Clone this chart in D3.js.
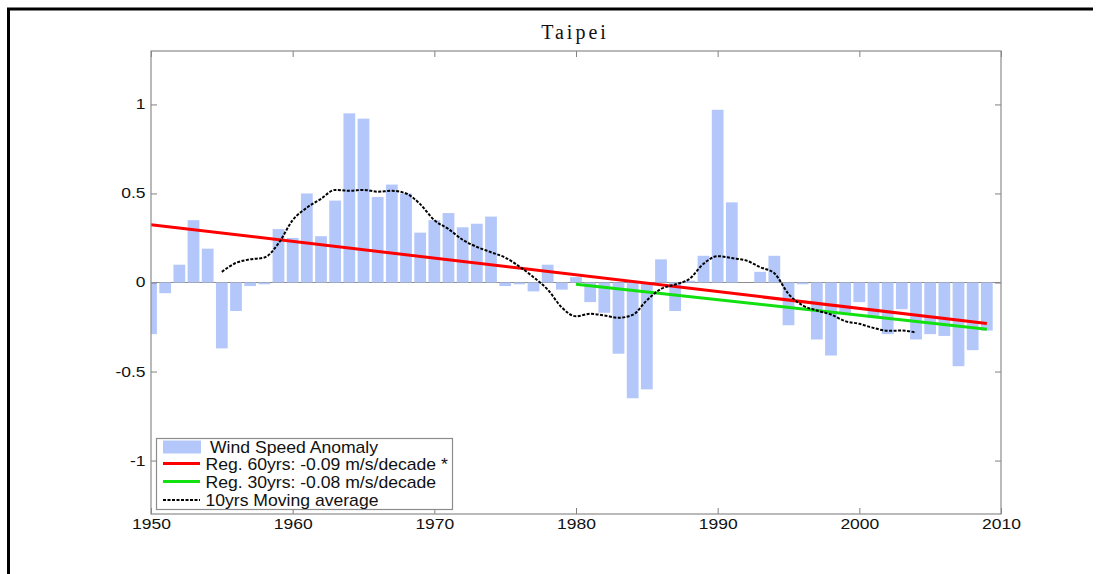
<!DOCTYPE html>
<html>
<head>
<meta charset="utf-8">
<script src="https://cdn.jsdelivr.net/npm/d3@7"></script>
<style>
  body { margin: 0; background: #fff; }
  svg { display: block; }
</style>
</head>
<body>
<svg id="chart" width="1100" height="574"></svg>
<script>
// yearly wind speed anomaly, Taipei (m/s)
var years = d3.range(1950, 2010);
var anomaly = [
  -0.29, -0.06, 0.10, 0.35, 0.19, -0.37, -0.16, -0.02, -0.01, 0.30,
   0.25, 0.50, 0.26, 0.46, 0.95, 0.92, 0.48, 0.55, 0.50, 0.28,
   0.35, 0.39, 0.31, 0.33, 0.37, -0.02, -0.01, -0.05, 0.10, -0.04,
   0.03, -0.11, -0.17, -0.40, -0.65, -0.60, 0.13, -0.16, 0.01, 0.15,
   0.97, 0.45, 0.00, 0.06, 0.15, -0.24, -0.01, -0.32, -0.41, -0.17,
  -0.11, -0.20, -0.29, -0.15, -0.32, -0.29, -0.30, -0.47, -0.38, -0.27
];

// 10yrs moving average, 1955-2004
var maYears = d3.range(1955, 2005);
var movingAvg = [
  0.06, 0.11, 0.13, 0.14, 0.22, 0.35, 0.42, 0.47, 0.52, 0.515,
  0.52, 0.51, 0.515, 0.50, 0.44, 0.35, 0.30, 0.24, 0.20, 0.17,
  0.14, 0.09, 0.03, -0.04, -0.14, -0.19, -0.176, -0.185, -0.198, -0.182,
  -0.10, -0.036, -0.011, 0.02, 0.105, 0.148, 0.137, 0.124, 0.086, 0.052,
  -0.064, -0.129, -0.157, -0.18, -0.217, -0.232, -0.255, -0.271, -0.27, -0.281
];

// regression lines, end points
var reg60 = [{year: 1950, v: 0.325}, {year: 2009, v: -0.23}];
var reg30 = [{year: 1980, v: -0.01}, {year: 2009, v: -0.262}];

var xTicks = [1950, 1960, 1970, 1980, 1990, 2000, 2010];
var yTicks = [-1, -0.5, 0, 0.5, 1];

var legendLabels = [
  "Wind Speed Anomaly",
  "Reg. 60yrs: -0.09 m/s/decade *",
  "Reg. 30yrs: -0.08 m/s/decade",
  "10yrs Moving average"
];

var svg = d3.select("#chart");
var pLeft = 151, pRight = 1001, pTop = 51, pBottom = 514;

var x = d3.scaleLinear().domain([1950, 2010]).range([pLeft, pRight]);
var y = d3.scaleLinear().domain([-1.3, 1.3]).range([pBottom, pTop]);

// outer frame of the page
svg.append("path")
  .attr("d", "M8.5,574 L8.5,9 L1093,9")
  .attr("fill", "none")
  .attr("stroke", "#000")
  .attr("stroke-width", 3);

svg.append("defs").append("clipPath").attr("id", "plotclip")
  .append("rect")
  .attr("x", pLeft).attr("y", pTop)
  .attr("width", pRight - pLeft).attr("height", pBottom - pTop);

var plot = svg.append("g").attr("clip-path", "url(#plotclip)");

// zero line
plot.append("line")
  .attr("x1", pLeft).attr("x2", pRight)
  .attr("y1", y(0)).attr("y2", y(0))
  .attr("stroke", "#8c8c8c").attr("stroke-width", 1.2);

// bars
var bw = (x(1951) - x(1950)) - 2.4;
plot.selectAll(".bar")
  .data(years)
  .enter().append("rect")
  .attr("class", "bar")
  .attr("x", function(d) { return x(d) - bw / 2; })
  .attr("width", bw)
  .attr("y", function(d, i) { return y(Math.max(0, anomaly[i])); })
  .attr("height", function(d, i) { return Math.abs(y(anomaly[i]) - y(0)); })
  .attr("fill", "#b3c7fa");

var regLine = d3.line()
  .x(function(d) { return x(d.year); })
  .y(function(d) { return y(d.v); });

plot.append("path")
  .datum(reg60)
  .attr("d", regLine)
  .attr("fill", "none")
  .attr("stroke", "#ff0000")
  .attr("stroke-width", 3);

plot.append("path")
  .datum(reg30)
  .attr("d", regLine)
  .attr("fill", "none")
  .attr("stroke", "#11e011")
  .attr("stroke-width", 3);

// moving average
var maLine = d3.line()
  .curve(d3.curveMonotoneX)
  .x(function(d) { return x(d); })
  .y(function(d, i) { return y(movingAvg[i]); });

plot.append("path")
  .datum(maYears)
  .attr("d", maLine)
  .attr("fill", "none")
  .attr("stroke", "#000")
  .attr("stroke-width", 2)
  .attr("stroke-dasharray", "3,1.5");

// axes: ticks point inward, on all four sides
function styleAxis(g) {
  g.select(".domain").remove();
  g.selectAll(".tick line").attr("stroke", "#808080");
  g.selectAll("text")
    .attr("font-family", "'Liberation Sans', Arial, sans-serif")
    .attr("font-size", 14)
    .attr("fill", "#111");
}

var xAxis = svg.append("g")
  .attr("transform", "translate(0," + pBottom + ")")
  .call(d3.axisBottom(x).tickValues(xTicks).tickSizeInner(-6).tickSizeOuter(0)
        .tickPadding(5.5).tickFormat(function(d) { return String(d); }))
  .call(styleAxis);
xAxis.selectAll("text").attr("transform", "scale(1.25,1)").attr("x", 0);

var yAxis = svg.append("g")
  .attr("transform", "translate(" + pLeft + ",0)")
  .call(d3.axisLeft(y).tickValues(yTicks).tickSizeInner(-6).tickSizeOuter(0)
        .tickPadding(5).tickFormat(function(d) { return String(d); }))
  .call(styleAxis);
yAxis.selectAll("text").attr("x", -5.5 / 1.25).attr("transform", "scale(1.25,1)");

svg.append("g")
  .attr("transform", "translate(0," + pTop + ")")
  .call(d3.axisTop(x).tickValues(xTicks).tickSizeInner(-6).tickSizeOuter(0).tickFormat(""))
  .call(styleAxis);

svg.append("g")
  .attr("transform", "translate(" + pRight + ",0)")
  .call(d3.axisRight(y).tickValues(yTicks).tickSizeInner(-6).tickSizeOuter(0).tickFormat(""))
  .call(styleAxis);

// plot box
svg.append("rect")
  .attr("x", pLeft).attr("y", pTop)
  .attr("width", pRight - pLeft).attr("height", pBottom - pTop)
  .attr("fill", "none")
  .attr("stroke", "#8c8c8c")
  .attr("stroke-width", 1.2);

// title
svg.append("text")
  .attr("x", 575).attr("y", 39)
  .attr("text-anchor", "middle")
  .attr("font-family", "'Liberation Serif', 'DejaVu Serif', serif")
  .attr("font-size", 20)
  .attr("letter-spacing", 3)
  .attr("fill", "#111")
  .text("Taipei");

// legend
var lg = svg.append("g");
lg.append("rect")
  .attr("x", 156.5).attr("y", 438.5)
  .attr("width", 296).attr("height", 71)
  .attr("fill", "#fff")
  .attr("stroke", "#8c8c8c")
  .attr("stroke-width", 1.2);

var rowY = [447, 463.5, 481.5, 500];
lg.append("rect")
  .attr("x", 163).attr("y", rowY[0] - 6.5)
  .attr("width", 38).attr("height", 13)
  .attr("fill", "#b3c7fa");
lg.append("line")
  .attr("x1", 163).attr("x2", 200).attr("y1", rowY[1]).attr("y2", rowY[1])
  .attr("stroke", "#ff0000").attr("stroke-width", 3);
lg.append("line")
  .attr("x1", 163).attr("x2", 200).attr("y1", rowY[2]).attr("y2", rowY[2])
  .attr("stroke", "#11e011").attr("stroke-width", 3);
lg.append("line")
  .attr("x1", 163).attr("x2", 200).attr("y1", rowY[3]).attr("y2", rowY[3])
  .attr("stroke", "#000").attr("stroke-width", 2).attr("stroke-dasharray", "3,1.5");

lg.selectAll(".lgtext")
  .data(legendLabels)
  .enter().append("text")
  .attr("class", "lgtext")
  .attr("transform", function(d, i) {
    return "translate(" + (i === 0 ? 210 : 205.5) + "," + (rowY[i] + 6) + ") scale(1.1,1)";
  })
  .attr("font-family", "'Liberation Sans', Arial, sans-serif")
  .attr("font-size", 16)
  .attr("fill", "#111")
  .text(function(d) { return d; });
</script>
</body>
</html>
